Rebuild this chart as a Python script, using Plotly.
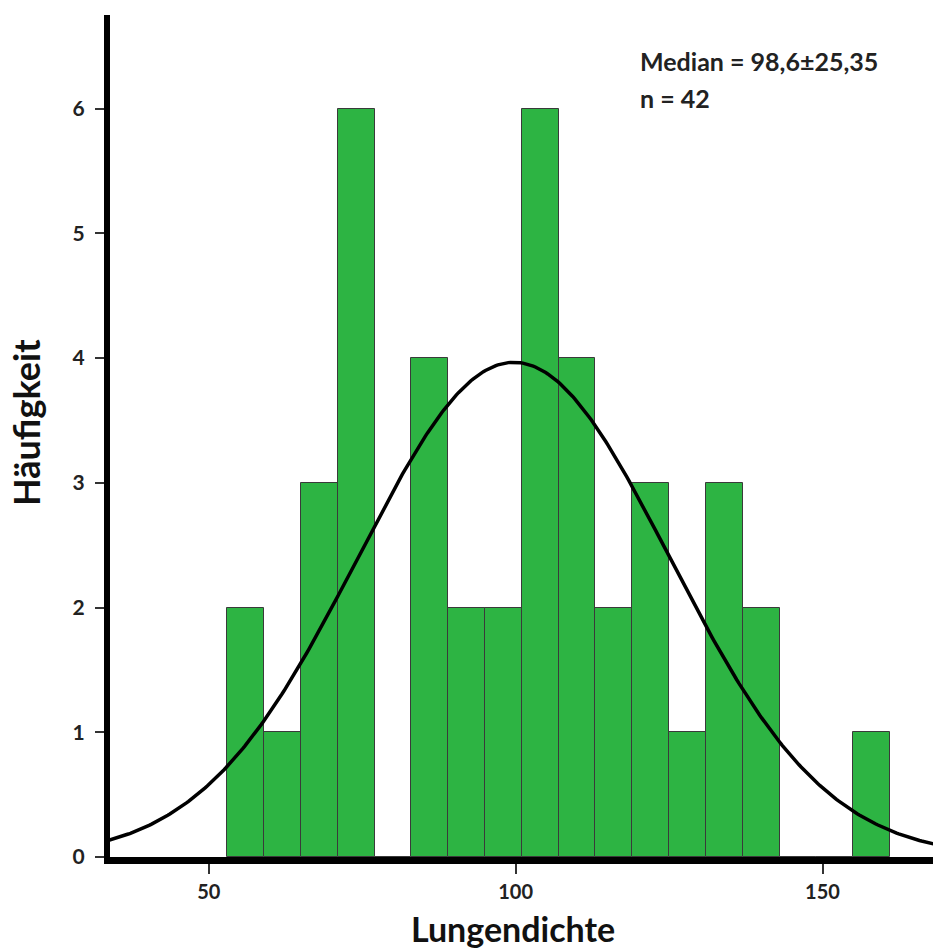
import numpy as np
import plotly.graph_objects as go

# Histogram data (bin width 6, starting at 53)
bin_start = 53
bin_width = 6
counts = [2, 1, 3, 6, 0, 4, 2, 2, 6, 4, 2, 3, 1, 3, 2, 0, 0, 1]

# Fitted normal curve parameters
curve_mean = 99.7
curve_sd = 25.35
n_total = 42

x_ticks = [50, 100, 150]
y_ticks = [0, 1, 2, 3, 4, 5, 6]

centers = [bin_start + bin_width / 2 + i * bin_width for i in range(len(counts))]

xs = np.linspace(33.5, 168.5, 400)
ys = n_total * bin_width / (curve_sd * np.sqrt(2 * np.pi)) * np.exp(-0.5 * ((xs - curve_mean) / curve_sd) ** 2)

font_family = "Lato, 'Open Sans', sans-serif"

fig = go.Figure()
fig.add_trace(go.Bar(
    x=centers, y=counts, width=bin_width,
    marker=dict(color="#2db443", line=dict(color="#3a3a3a", width=1)),
    showlegend=False, hoverinfo="x+y",
))
fig.add_trace(go.Scatter(
    x=xs, y=ys, mode="lines",
    line=dict(color="black", width=3.5),
    showlegend=False, hoverinfo="skip",
))

fig.add_annotation(
    x=(637 - 107) / 826, y=(857 - 61) / 842, xref="paper", yref="paper",
    xanchor="left", yanchor="middle",
    text="<b>Median = 98,6±25,35</b>", showarrow=False, align="left",
    font=dict(family=font_family, size=25, color="#222"),
)
fig.add_annotation(
    x=(637 - 107) / 826, y=(857 - 98) / 842, xref="paper", yref="paper",
    xanchor="left", yanchor="middle",
    text="<b>n = 42</b>", showarrow=False, align="left",
    font=dict(family=font_family, size=25, color="#222"),
)
# Axis titles
fig.add_annotation(
    x=(511 - 107) / 826, y=0, xref="paper", yref="paper", yshift=-71,
    xanchor="center", yanchor="middle",
    text="<b>Lungendichte</b>", showarrow=False,
    font=dict(family=font_family, size=34, color="#111"),
)
fig.add_annotation(
    x=0, y=(857 - 423) / 842, xref="paper", yref="paper", xshift=-84,
    xanchor="center", yanchor="middle", textangle=-90,
    text="<b>Häufigkeit</b>", showarrow=False,
    font=dict(family=font_family, size=36, color="#111"),
)

fig.update_layout(
    width=933, height=949,
    margin=dict(l=110, r=0, t=15, b=92),
    plot_bgcolor="white", paper_bgcolor="white",
    bargap=0,
    font=dict(family=font_family, color="#222"),
    xaxis=dict(
        range=[33.9, 168.0], tickvals=x_ticks, ticktext=[f"<b>{v}</b>" for v in x_ticks],
        showline=True, linewidth=7, linecolor="black",
        ticks="outside", ticklen=10, tickwidth=1.5, tickcolor="#333",
        tickfont=dict(size=20, family=font_family, color="#222"),
        ticklabelstandoff=1,
        showgrid=False, zeroline=False,
    ),
    yaxis=dict(
        range=[0, 6.75], tickvals=y_ticks, ticktext=[f"<b>{v}</b>" for v in y_ticks],
        showline=True, linewidth=6, linecolor="black",
        ticks="outside", ticklen=9, tickwidth=1.5, tickcolor="#333",
        tickfont=dict(size=21, family=font_family, color="#222"),
        ticklabelstandoff=6,
        showgrid=False, zeroline=False,
    ),
)

fig.write_html("out.html")
